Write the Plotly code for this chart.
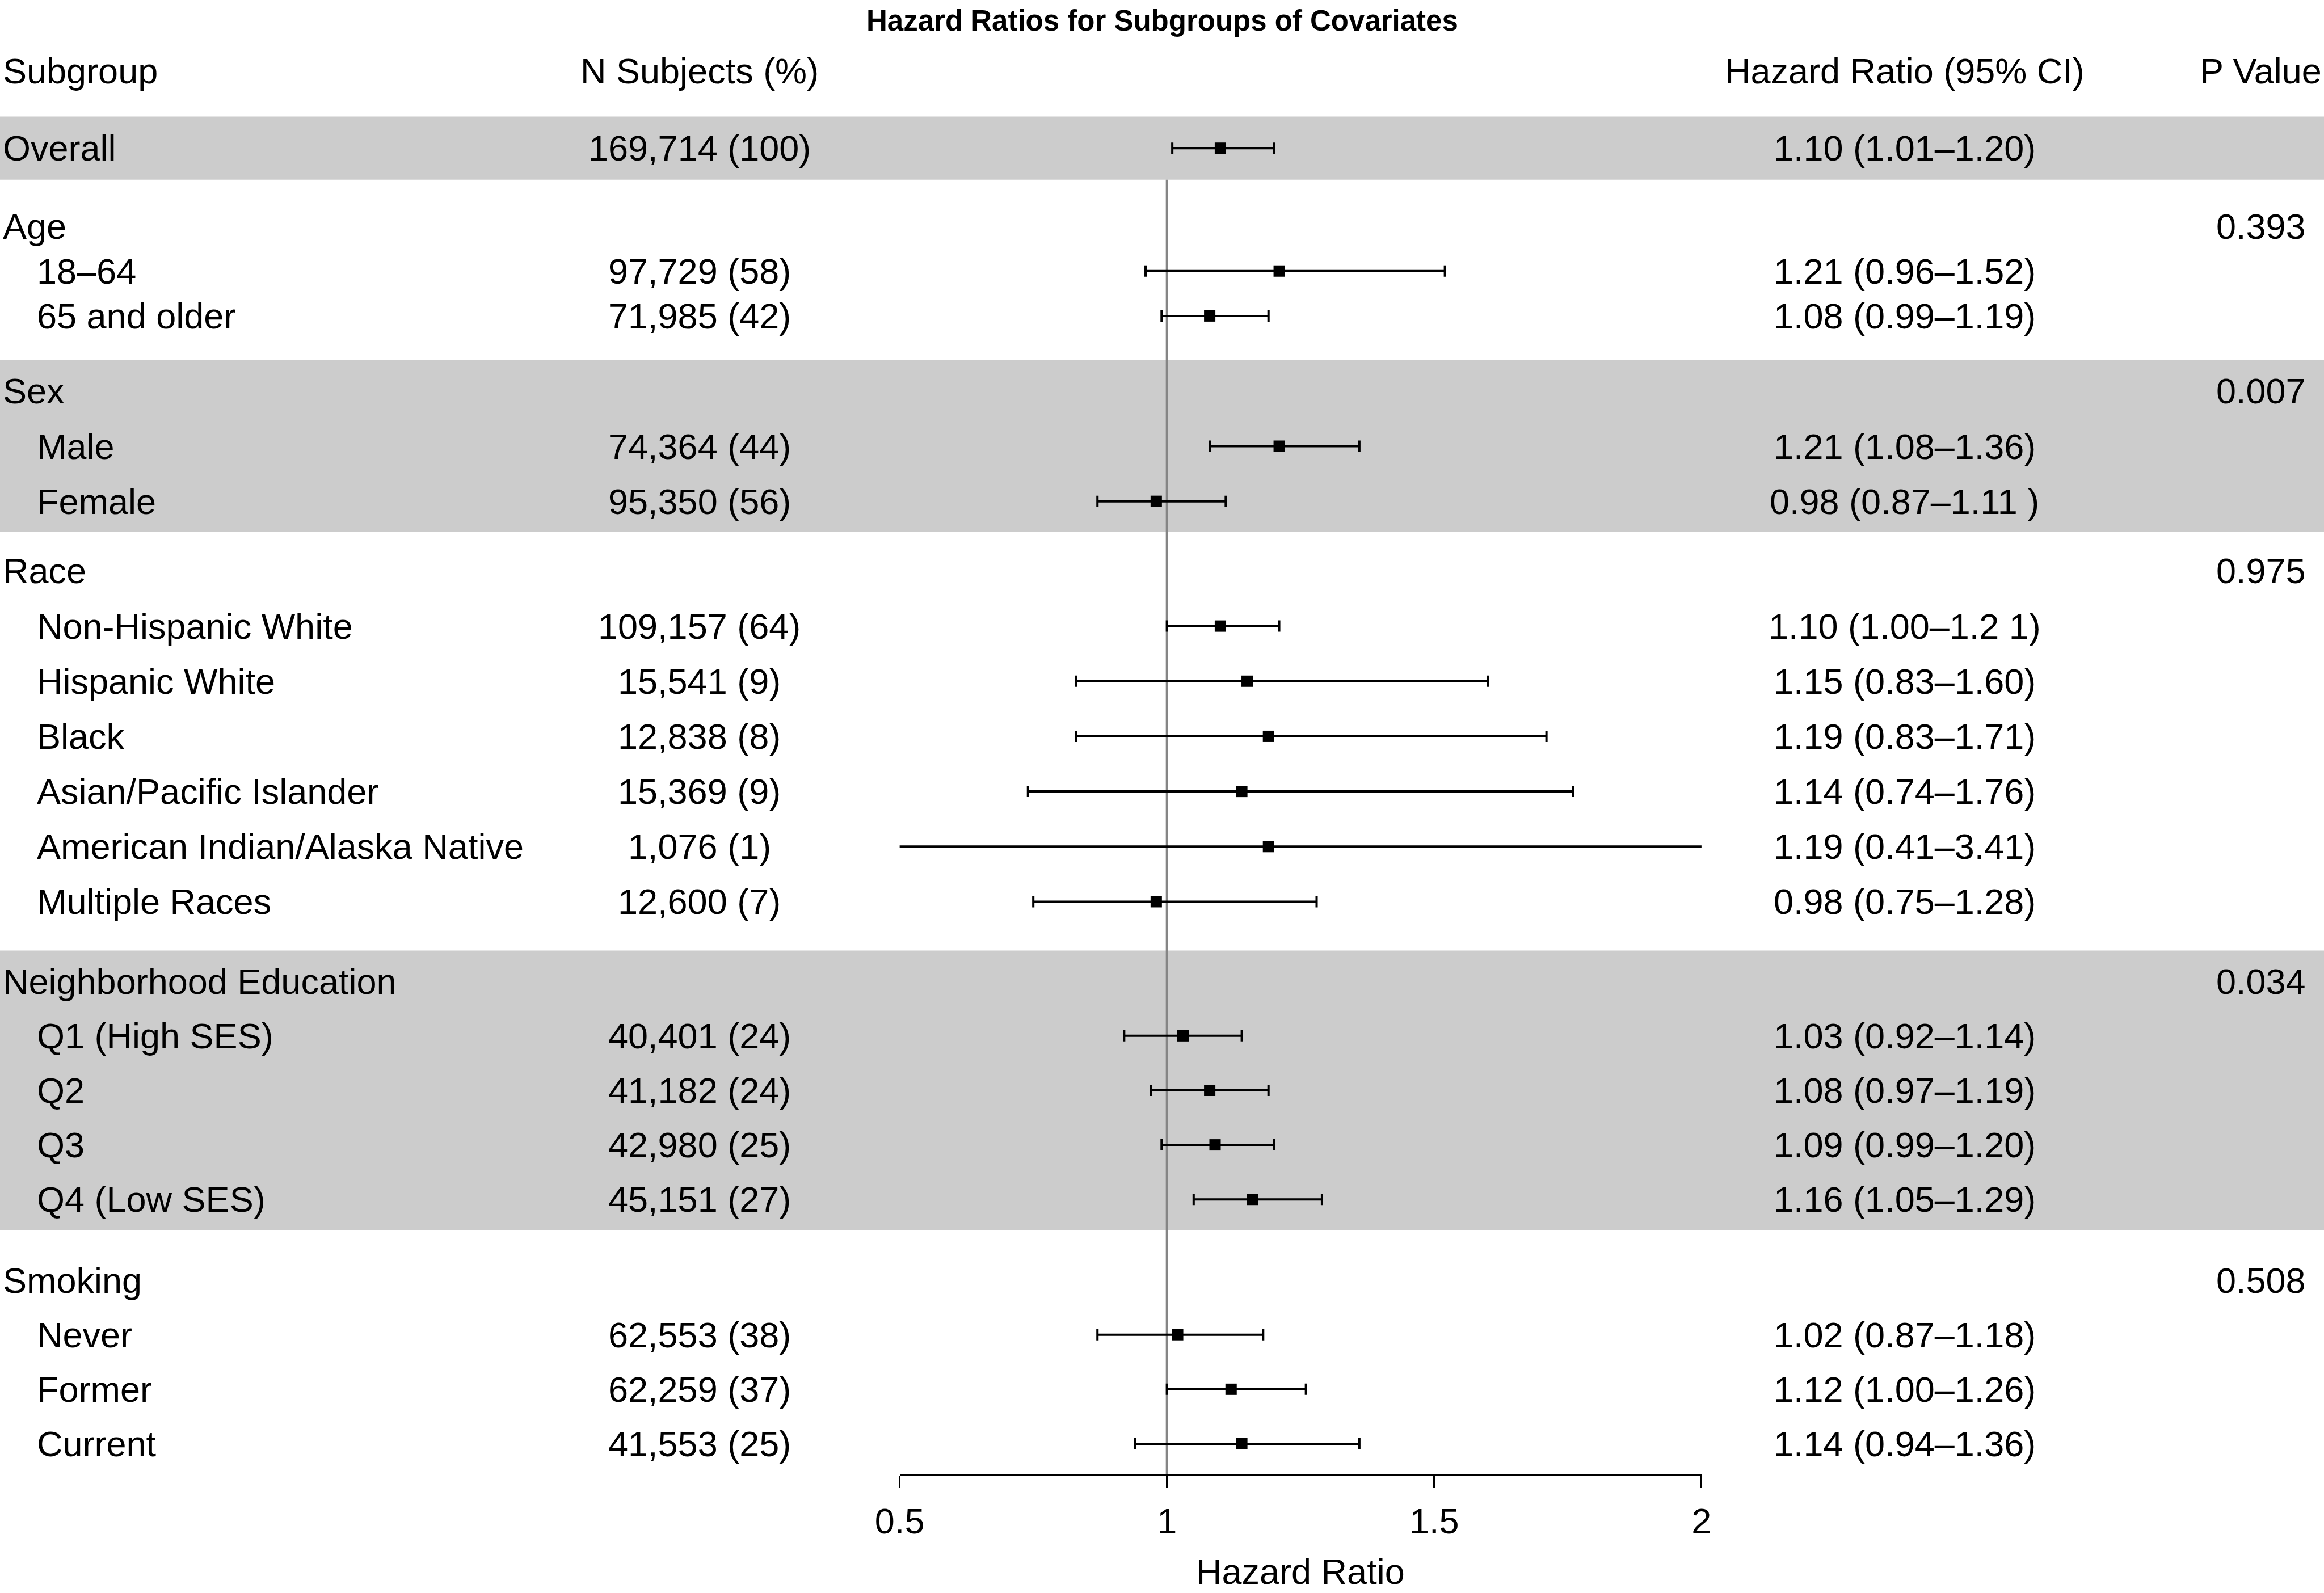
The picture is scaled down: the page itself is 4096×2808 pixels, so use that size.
import plotly.graph_objects as go

# ---------------- data ----------------
row_labels = ["Overall", "18–64", "65 and older", "Male", "Female",
              "Non-Hispanic White", "Hispanic White", "Black", "Asian/Pacific Islander",
              "American Indian/Alaska Native", "Multiple Races",
              "Q1 (High SES)", "Q2", "Q3", "Q4 (Low SES)",
              "Never", "Former", "Current"]
row_section = [None, "Age", "Age", "Sex", "Sex",
               "Race", "Race", "Race", "Race", "Race", "Race",
               "Neighborhood Education", "Neighborhood Education",
               "Neighborhood Education", "Neighborhood Education",
               "Smoking", "Smoking", "Smoking"]
n_subjects = [169714, 97729, 71985, 74364, 95350, 109157, 15541, 12838, 15369,
              1076, 12600, 40401, 41182, 42980, 45151, 62553, 62259, 41553]
n_pct = [100, 58, 42, 44, 56, 64, 9, 8, 9, 1, 7, 24, 24, 25, 27, 38, 37, 25]
hr = [1.10, 1.21, 1.08, 1.21, 0.98, 1.10, 1.15, 1.19, 1.14, 1.19, 0.98,
      1.03, 1.08, 1.09, 1.16, 1.02, 1.12, 1.14]
ci_lo = [1.01, 0.96, 0.99, 1.08, 0.87, 1.00, 0.83, 0.83, 0.74, 0.41, 0.75,
         0.92, 0.97, 0.99, 1.05, 0.87, 1.00, 0.94]
ci_hi = [1.20, 1.52, 1.19, 1.36, 1.11, 1.21, 1.60, 1.71, 1.76, 3.41, 1.28,
         1.14, 1.19, 1.20, 1.29, 1.18, 1.26, 1.36]
ci_text = ["1.10 (1.01–1.20)", "1.21 (0.96–1.52)", "1.08 (0.99–1.19)",
           "1.21 (1.08–1.36)", "0.98 (0.87–1.11 )",
           "1.10 (1.00–1.2 1)", "1.15 (0.83–1.60)", "1.19 (0.83–1.71)",
           "1.14 (0.74–1.76)", "1.19 (0.41–3.41)", "0.98 (0.75–1.28)",
           "1.03 (0.92–1.14)", "1.08 (0.97–1.19)", "1.09 (0.99–1.20)",
           "1.16 (1.05–1.29)",
           "1.02 (0.87–1.18)", "1.12 (1.00–1.26)", "1.14 (0.94–1.36)"]
sections = ["Age", "Sex", "Race", "Neighborhood Education", "Smoking"]
section_p = ["0.393", "0.007", "0.975", "0.034", "0.508"]
headers = ["Subgroup", "N Subjects (%)", "Hazard Ratio (95% CI)", "P Value"]
x_ticks = [0.5, 1, 1.5, 2]
title = "Hazard Ratios for Subgroups of Covariates"
x_title = "Hazard Ratio"

# ---------------- layout (in reference units, 1568 x 1075 canvas) ----------------
W, H = 4096, 2808
CW, CH = 1568.0, 1075.0
FS = 63
FONT = "Liberation Sans, Arial, Helvetica, sans-serif"
NARROW = "Liberation Sans Narrow, Arial Narrow, Liberation Sans, Arial, sans-serif"

header_y = 48
overall_y = 100
sec_gap = [52.6, 50.7, 47.0, 53.7, 54.5]
sec_step = [30.3, 37.2, 37.2, 36.8, 36.8]
axis_y = 995
band_pad = 20.8

col_label_head = 1
col_label_sub = 24
col_n = 472
col_ci = 1285
col_p = 1525.5
plot_x0, plot_x1 = 607, 1148

# compute row positions
row_y = [0.0] * len(row_labels)
row_y[0] = overall_y
section_y = {}
last = overall_y
for si, sec in enumerate(sections):
    hy = last + sec_gap[si]
    section_y[sec] = hy
    k = 0
    for i, s in enumerate(row_section):
        if s == sec:
            k += 1
            row_y[i] = hy + sec_step[si] * k
            last = row_y[i]


def px(x):
    return x / CW


def fmt_n(n, p):
    return f"{n:,} ({p})"


fig = go.Figure()

fig.add_trace(go.Scatter(
    x=hr, y=row_y, mode="markers",
    marker=dict(symbol="square", size=20, color="black", line=dict(width=0)),
    error_x=dict(type="data", symmetric=False,
                 array=[h - e for h, e in zip(ci_hi, hr)],
                 arrayminus=[e - l for e, l in zip(hr, ci_lo)],
                 color="black", thickness=4, width=10),
    showlegend=False, hoverinfo="skip", cliponaxis=True,
))

shapes = []
# overall band
shapes.append(dict(type="rect", xref="paper", yref="y", x0=0, x1=1,
                   y0=overall_y - band_pad - 0.5, y1=overall_y + band_pad + 0.5,
                   fillcolor="#cccccc", line=dict(width=0), layer="below"))


def section_band(sec):
    ys = [section_y[sec]] + [row_y[i] for i, s in enumerate(row_section) if s == sec]
    return dict(type="rect", xref="paper", yref="y", x0=0, x1=1,
                y0=min(ys) - band_pad, y1=max(ys) + band_pad,
                fillcolor="#cccccc", line=dict(width=0), layer="below")


shapes.append(section_band("Sex"))
# reference line at HR = 1
shapes.append(dict(type="line", xref="x", yref="y", x0=1, x1=1,
                   y0=overall_y + band_pad + 0.5, y1=axis_y,
                   line=dict(color="#858585", width=4), layer="below"))
shapes.append(section_band("Neighborhood Education"))

ann = []


def text(x, y, s, anchor="left", size=FS, family=FONT, weight="normal", xref="paper"):
    ann.append(dict(x=x, y=y, xref=xref, yref="y", text=s, showarrow=False,
                    xanchor=anchor, yanchor="middle",
                    font=dict(family=family, size=size, color="black", weight=weight)))


# title
text(px(784), 14, title, anchor="center", size=51, family=NARROW, weight="bold")
# headers
text(px(col_label_head), header_y, headers[0], "left")
text(px(col_n), header_y, headers[1], "center")
text(px(col_ci), header_y, headers[2], "center")
text(px(col_p), header_y, headers[3], "center")

# rows
for i, lab in enumerate(row_labels):
    xl = col_label_head if row_section[i] is None else col_label_sub
    text(px(xl), row_y[i], lab, "left")
    text(px(col_n), row_y[i], fmt_n(n_subjects[i], n_pct[i]), "center")
    text(px(col_ci), row_y[i], ci_text[i], "center")

for si, sec in enumerate(sections):
    text(px(col_label_head), section_y[sec], sec, "left")
    text(px(col_p), section_y[sec], section_p[si], "center")

# axis title
text(px((plot_x0 + plot_x1) / 2), 1060.5, x_title, "center")

fig.update_layout(
    width=W, height=H,
    margin=dict(l=0, r=0, t=0, b=0, pad=0, autoexpand=False),
    paper_bgcolor="white", plot_bgcolor="rgba(0,0,0,0)",
    shapes=shapes, annotations=ann,
    xaxis=dict(domain=[plot_x0 / CW, plot_x1 / CW], range=[0.5, 2],
               anchor="free", position=1 - axis_y / CH, automargin=False,
               showgrid=False, zeroline=False,
               showline=True, linecolor="black", linewidth=3,
               ticks="outside", ticklen=22, tickwidth=3, tickcolor="black",
               tickvals=x_ticks, ticktext=[f"{t:g}" for t in x_ticks],
               tickfont=dict(family=FONT, size=FS, color="black"),
               ticklabelstandoff=4, fixedrange=True),
    yaxis=dict(domain=[0, 1], range=[CH, 0], visible=False, automargin=False,
               fixedrange=True),
    font=dict(family=FONT, size=FS, color="black"),
)

fig.write_html("out.html",
               config={"displayModeBar": False, "staticPlot": True},
               post_script="document.body.style.margin='0';"
                           "document.body.style.overflow='hidden';")
